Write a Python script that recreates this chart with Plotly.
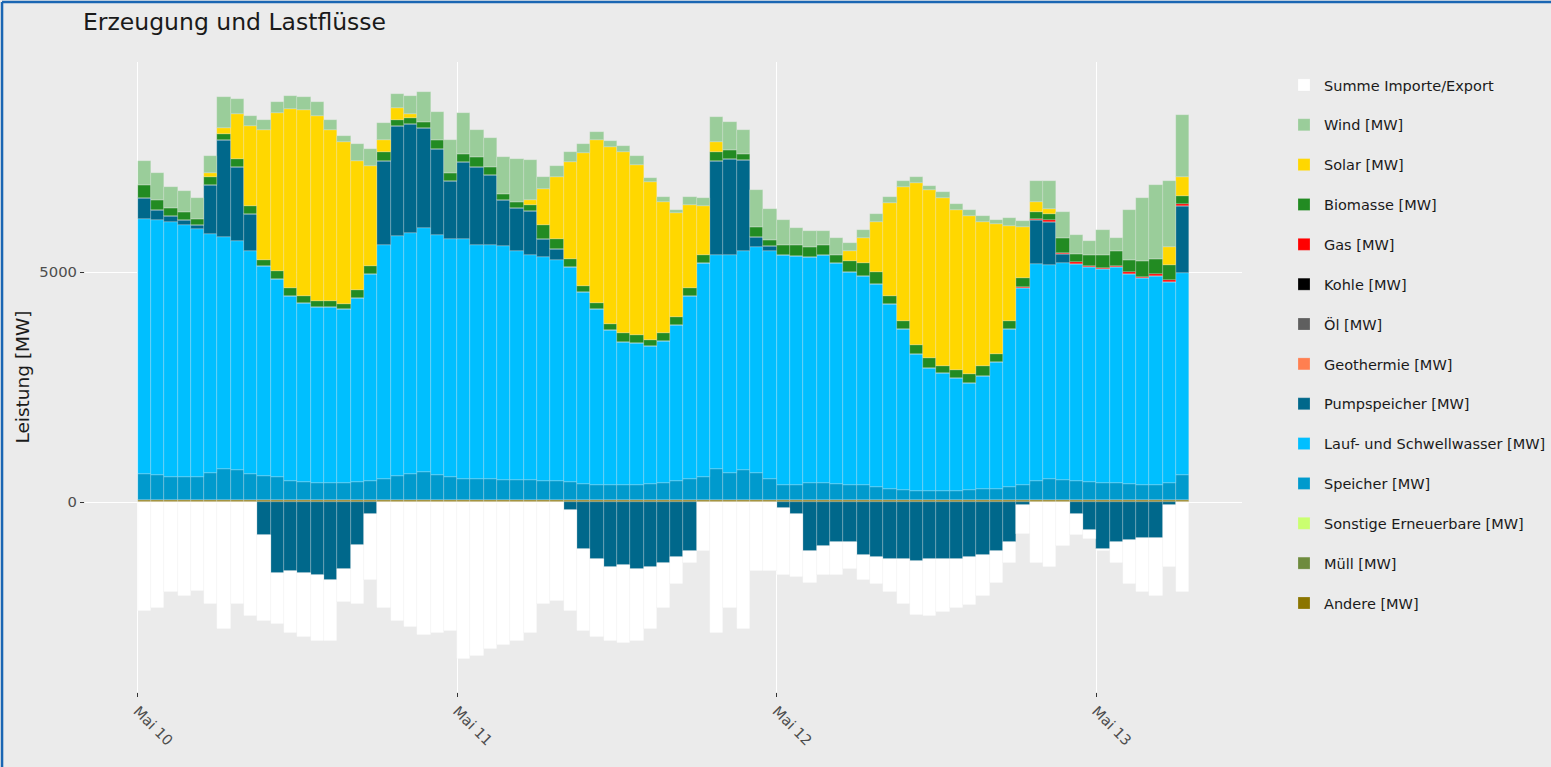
import pandas as pd
import plotly.graph_objects as go

# Stundenwerte 10.05. 00:00 bis 13.05. 07:00 (Balkenmitte jeweils +30 min)
HOURS = pd.date_range("2019-05-10 00:30", periods=79, freq="h")

ANDERE = [50] * 79
SPEICHER = [570, 550, 500, 500, 500, 590, 680, 640, 570, 520, 490, 410, 380, 370, 370, 370,
            400, 410, 460, 520, 570, 610, 550, 500, 460, 460, 460, 440, 430, 430, 410, 410,
            390, 340, 320, 320, 320, 320, 340, 370, 410, 460, 500, 680, 590, 640, 590, 460,
            320, 320, 370, 370, 340, 320, 320, 280, 240, 220, 190, 190, 190, 190, 210, 240,
            240, 280, 320, 410, 460, 430, 410, 400, 370, 360, 340, 320, 320, 370, 550]
LAUF = [5540, 5530, 5530, 5480, 5390, 5190, 5040, 4990, 4830, 4570, 4300, 4010, 3890, 3830, 3820, 3770,
        3980, 4500, 5080, 5220, 5230, 5290, 5210, 5170, 5200, 5080, 5080, 5070, 4970, 4880, 4860, 4810,
        4660, 4170, 3820, 3370, 3120, 3080, 3010, 3080, 3390, 3970, 4640, 4640, 4720, 4770, 4900, 4950,
        4990, 4970, 4900, 4950, 4800, 4640, 4550, 4410, 4010, 3490, 2990, 2670, 2560, 2450, 2340, 2450,
        2760, 3430, 4280, 4720, 4640, 4710, 4720, 4650, 4640, 4690, 4570, 4500, 4550, 4370, 4370]
PUMPSPEICHER = [450, 220, 130, 90, 90, 1050, 2100, 1600, 800, -700, -1540, -1500, -1540, -1590, -1680, -1450,
                -920, -250, 1830, 2380, 2360, 2180, 1870, 1250, 1670, 1690, 1520, 1010, 940, 960, 400, 220,
                -160, -1010, -1230, -1410, -1360, -1450, -1410, -1320, -1190, -1050, 0, 2050, 2100, 1980, 220, 110,
                -120, -250, -1050, -960, -870, -870, -1140, -1190, -1230, -1230, -1280, -1230, -1230, -1230, -1190, -1140,
                -1050, -870, -70, 940, 940, 200, -250, -610, -1010, -870, -830, -780, -780, -70, 1470]
GAS = [0, 0, 0, 0, 0, 0, 0, 0, 0, 0, 0, 0, 0, 0, 0, 0,
       0, 0, 0, 0, 0, 0, 0, 0, 0, 0, 0, 0, 0, 0, 0, 0,
       0, 0, 0, 0, 0, 0, 0, 0, 0, 0, 0, 0, 0, 0, 0, 0,
       0, 0, 0, 0, 0, 0, 0, 0, 0, 0, 0, 0, 0, 0, 0, 0,
       0, 0, 30, 30, 30, 30, 30, 30, 30, 30, 30, 30, 30, 30, 30]
BIOMASSE = [270, 220, 180, 180, 130, 180, 130, 180, 180, 130, 180, 180, 160, 130, 140, 110,
            180, 180, 180, 130, 130, 130, 180, 180, 180, 220, 180, 130, 130, 130, 310, 220,
            180, 130, 130, 130, 180, 180, 130, 180, 180, 180, 180, 180, 180, 130, 220, 120,
            220, 240, 220, 220, 180, 220, 270, 270, 180, 180, 180, 220, 160, 180, 180, 220,
            180, 180, 190, 150, 150, 310, 190, 240, 280, 330, 280, 330, 330, 330, 190]
SOLAR = [0, 0, 0, 0, 0, 90, 130, 980, 1740, 2810, 3430, 3880, 4030, 4010, 3700, 3520,
         2810, 2170, 270, 270, 90, 0, 0, 0, 0, 0, 0, 0, 0, 120, 780, 1360,
         2100, 2900, 3540, 3850, 3940, 3700, 3430, 2850, 2250, 1800, 1070, 220, 0, 0, 0, 0,
         0, 0, 0, 0, 0, 220, 540, 1070, 2010, 2900, 3520, 3650, 3650, 3480, 3430, 3120,
         2810, 2050, 1110, 220, 90, 0, 0, 0, 0, 0, 0, 0, 0, 400, 400]
WIND = [540, 580, 450, 450, 450, 360, 670, 310, 220, 220, 240, 290, 290, 310, 220, 130,
        360, 360, 360, 290, 400, 650, 620, 710, 890, 580, 620, 800, 940, 870, 250, 230,
        220, 180, 180, 130, 120, 180, 90, 90, 70, 160, 160, 540, 620, 520, 800, 670,
        540, 380, 360, 310, 360, 180, 180, 180, 130, 130, 130, 90, 130, 130, 130, 130,
        90, 180, 130, 450, 620, 580, 400, 310, 540, 270, 1070, 1380, 1600, 1430, 1340]
SUMME = [-2370, -2300, -1940, -2030, -1930, -2210, -2750, -2210, -2480, -1870, -1110, -1340, -1380, -1430, -1340, -710,
         -1290, -1430, -2300, -2570, -2700, -2880, -2830, -2790, -3410, -3330, -3190, -3100, -3010, -2830, -2210, -2140,
         -2210, -1780, -1690, -1600, -1690, -1560, -1340, -980, -580, -270, -1050, -2830, -2300, -2750, -1500, -1500,
         -1470, -1380, -710, -620, -710, -580, -540, -580, -710, -980, -1160, -1250, -1160, -1070, -1030, -890,
         -710, -450, -620, -1320, -1410, -960, -450, -180, -40, -450, -940, -1160, -1250, -1340, -1940]
EMPTY = [0] * 79

# Reihenfolge = Stapelreihenfolge von unten nach oben
SERIES = [
    ("Andere [MW]", ANDERE, "#8B7500"),
    ("Müll [MW]", EMPTY, "#6E8B3D"),
    ("Sonstige Erneuerbare [MW]", EMPTY, "#CAFF70"),
    ("Speicher [MW]", SPEICHER, "#009ACD"),
    ("Lauf- und Schwellwasser [MW]", LAUF, "#00BFFF"),
    ("Pumpspeicher [MW]", PUMPSPEICHER, "#00688B"),
    ("Geothermie [MW]", EMPTY, "#FF7F50"),
    ("Öl [MW]", EMPTY, "#5F5F5F"),
    ("Kohle [MW]", EMPTY, "#000000"),
    ("Gas [MW]", GAS, "#FF0000"),
    ("Biomasse [MW]", BIOMASSE, "#228B22"),
    ("Solar [MW]", SOLAR, "#FFD700"),
    ("Wind [MW]", WIND, "#9ACD9A"),
    ("Summe Importe/Export", SUMME, "#FFFFFF"),
]

BG = "#EBEBEB"
FONT = "DejaVu Sans, Verdana, sans-serif"
BORDER = "#1A66B3"

fig = go.Figure()
for i, (name, values, color) in enumerate(SERIES):
    fig.add_trace(go.Bar(
        x=HOURS, y=values, name=name, legendgroup=name,
        legendrank=len(SERIES) - i,
        width=3600000,
        marker={"color": color, "line": {"color": "rgba(235,235,235,0.45)", "width": 0.5}},
    ))

fig.update_layout(
    width=1551,
    height=767,
    barmode="relative",
    bargap=0,
    paper_bgcolor=BG,
    plot_bgcolor=BG,
    font={"family": FONT, "color": "#1A1A1A"},
    margin={"l": 85, "r": 309, "t": 62, "b": 75, "autoexpand": False},
    title={"text": "Erzeugung und Lastflüsse", "x": 83 / 1551, "xanchor": "left",
           "y": 1 - 22 / 767, "yanchor": "middle", "font": {"size": 23.5, "color": "#1A1A1A"}},
    legend={"xref": "container", "yref": "container", "x": 1284 / 1551, "xanchor": "left",
            "y": 1 - 69 / 767, "yanchor": "top", "traceorder": "grouped", "maxheight": 700,
            "tracegroupgap": 18, "font": {"size": 14.5, "color": "#1A1A1A"}, "bgcolor": BG},
    showlegend=True,
)
fig.update_xaxes(
    type="date",
    range=["2019-05-09 20:03", "2019-05-13 10:57"],
    tickvals=["2019-05-10", "2019-05-11", "2019-05-12", "2019-05-13"],
    ticktext=["Mai 10", "Mai 11", "Mai 12", "Mai 13"],
    tickangle=45,
    ticks="outside", ticklen=4, tickcolor="#333333",
    tickfont={"size": 14.5, "color": "#4D4D4D"},
    showgrid=True, gridcolor="#FFFFFF", gridwidth=1.2,
    zeroline=False, showline=False, automargin=False,
)
fig.update_yaxes(
    range=[-4120, 9560],
    tickvals=[0, 5000], ticktext=["0", "5000"],
    ticks="outside", ticklen=4, tickcolor="#333333",
    tickfont={"size": 14.8, "color": "#4D4D4D"},
    title={"text": "Leistung [MW]", "font": {"size": 18.5, "color": "#1A1A1A"}, "standoff": 4},
    showgrid=True, gridcolor="#FFFFFF", gridwidth=1.2,
    zeroline=False, showline=False, automargin=False,
)

# blauer Rahmen der Seite (links und oben)
fig.add_shape(type="line", xref="paper", yref="paper", x0=-0.0717, x1=-0.0717, y0=-0.13, y1=1.0952,
              line={"color": BORDER, "width": 2.5})
fig.add_shape(type="line", xref="paper", yref="paper", x0=-0.0717, x1=1.27, y0=1.0952, y1=1.0952,
              line={"color": BORDER, "width": 2.5})

# Browser-Standardrand der Seite entfernen, damit die Grafik bei (0, 0) beginnt
fig.write_html(
    "out.html",
    config={"displayModeBar": False},
    post_script="document.body.style.margin = '0'; document.body.style.overflow = 'hidden';",
)
